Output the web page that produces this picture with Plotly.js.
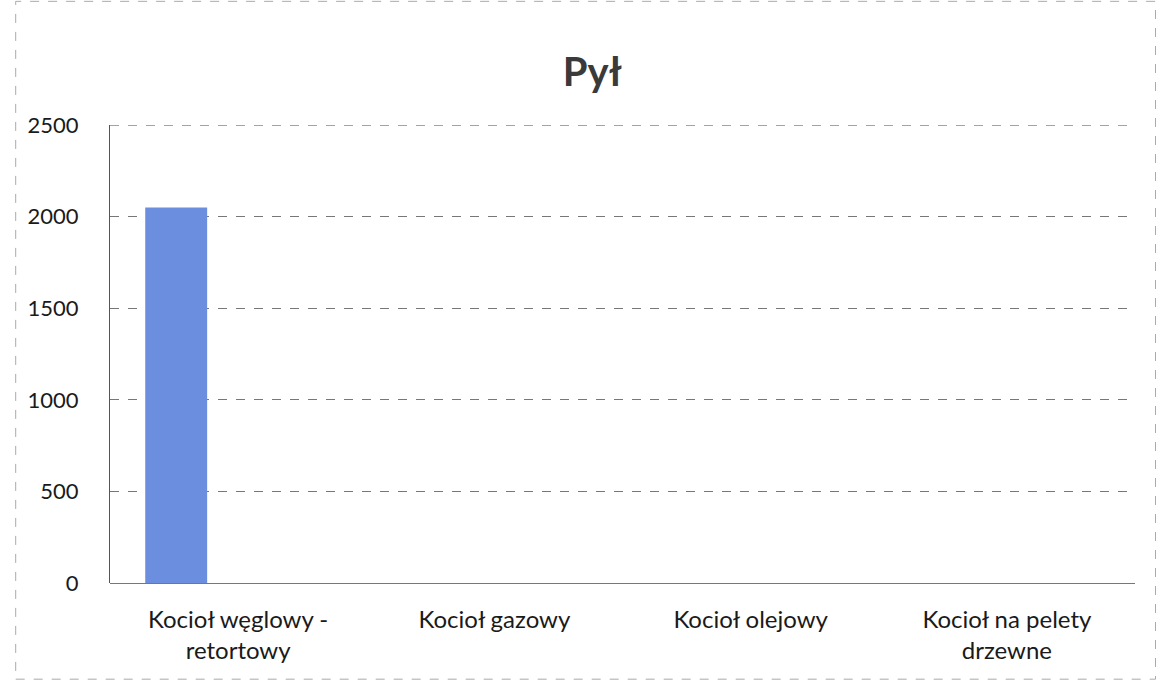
<!DOCTYPE html>
<html>
<head>
<meta charset="utf-8">
<script src="https://cdn.plot.ly/plotly-3.0.1.min.js"></script>
<style>html,body{margin:0;padding:0;background:#fff;}#chart{width:1157px;height:696px;}</style>
</head>
<body>
<div id="chart"></div>
<script>
const categories = ["Kocioł węglowy -<br>retortowy", "Kocioł gazowy", "Kocioł olejowy", "Kocioł na pelety<br>drzewne"];
const series1 = [2050, 0, 0, 0];
const series2 = [0, 0, 0, 0];
const series3 = [0, 0, 0, 0];
const yTicks = [0, 500, 1000, 1500, 2000, 2500];

const FONT = 'Lato, "Open Sans", sans-serif';
const mk = (vals, color) => ({type: 'bar', x: categories, y: vals, marker: {color: color}, hoverinfo: 'x+y'});

const layout = {
  width: 1157, height: 696,
  paper_bgcolor: '#fff', plot_bgcolor: '#fff',
  margin: {l: 110, r: 22, t: 125, b: 113},
  title: {text: '<b>Pył</b>', x: 0.512, xanchor: 'center', y: 0.897, yanchor: 'middle',
          font: {family: FONT, size: 40, color: '#3a3a3a'}},
  barmode: 'group',
  bargap: 0.275,
  bargroupgap: 0,
  showlegend: false,
  xaxis: {
    type: 'category',
    tickfont: {family: FONT, size: 24, color: '#1a1a1a'},
    showline: false, ticks: '', showgrid: false, zeroline: false,
    ticklabelstandoff: 20,
    automargin: false
  },
  yaxis: {
    range: [0, 2501], tickvals: yTicks, ticktext: yTicks.map(String),
    tickfont: {family: FONT, size: 22, color: '#1a1a1a'},
    showgrid: true, gridcolor: '#777', griddash: 'dash', gridwidth: 1,
    zeroline: true, zerolinecolor: '#777', zerolinewidth: 1,
    showline: true, linecolor: '#555', linewidth: 1,
    ticks: '', ticklabelstandoff: 26, automargin: false
  },
  shapes: [
    {type: 'rect', xref: 'paper', yref: 'paper', x0: -0.092, x1: 1.02, y0: -0.21, y1: 1.27,
     line: {color: '#aaa', width: 1, dash: 'dash'}, fillcolor: 'rgba(0,0,0,0)', layer: 'below'},
    {type: 'line', xref: 'paper', yref: 'y', x0: 0, x1: 1, y0: 2500, y1: 2500,
     line: {color: '#777', width: 1, dash: 'dash'}}
  ]
};

Plotly.newPlot('chart', [mk(series1, '#6b8fde'), mk(series2, '#c0504d'), mk(series3, '#9bbb59')], layout, {displayModeBar: false, staticPlot: true});
</script>
</body>
</html>
